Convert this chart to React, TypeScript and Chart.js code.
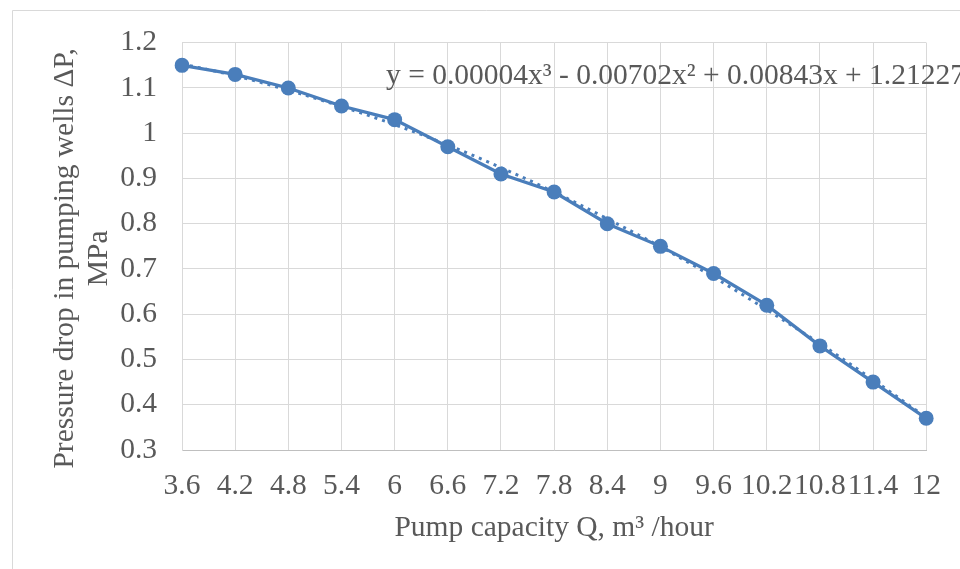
import React, { useEffect, useRef } from "react";
import { Chart, registerables } from "chart.js";

Chart.register(...registerables);

const categories = ["3.6", "4.2", "4.8", "5.4", "6", "6.6", "7.2", "7.8", "8.4", "9", "9.6", "10.2", "10.8", "11.4", "12"];
const pressureDrop = [1.15, 1.13, 1.1, 1.06, 1.03, 0.97, 0.91, 0.87, 0.8, 0.75, 0.69, 0.62, 0.53, 0.45, 0.37];
const trendValues = [1.153, 1.127, 1.095, 1.059, 1.019, 0.974, 0.924, 0.87, 0.811, 0.749, 0.682, 0.61, 0.535, 0.455, 0.372];
const yTicks = { min: 0.3, max: 1.2, step: 0.1 };
const equationText = "y = 0.00004x³ - 0.00702x² + 0.00843x + 1.21227";
const yTitle = ["Pressure drop in pumping wells ΔP,", "MPa"];
const xTitle = "Pump capacity Q, m³ /hour";

const BLUE = "#4a7ebb";
const TEXT = "#595959";
const GRID = "#d9d9d9";
const AXIS = "#bfbfbf";
const FONT = "'Liberation Serif', 'Times New Roman', serif";
const FS = 29.5;

export default function App() {
  const ref = useRef<HTMLCanvasElement | null>(null);

  useEffect(() => {
    const canvas = ref.current;
    if (!canvas) return;

    const framePlugin = {
      id: "frame",
      beforeDraw(chart: any) {
        const ctx = chart.ctx;
        ctx.save();
        ctx.fillStyle = "#ffffff";
        ctx.fillRect(0, 0, chart.width, chart.height);
        ctx.strokeStyle = GRID;
        ctx.lineWidth = 1;
        ctx.beginPath();
        ctx.moveTo(12.5, chart.height);
        ctx.lineTo(12.5, 10.5);
        ctx.lineTo(chart.width, 10.5);
        ctx.stroke();
        ctx.restore();
      },
      afterDraw(chart: any) {
        const ctx = chart.ctx;
        const a = chart.chartArea;
        ctx.save();
        ctx.fillStyle = TEXT;
        ctx.font = `${FS}px ${FONT}`;
        ctx.textAlign = "left";
        ctx.textBaseline = "alphabetic";
        ctx.fillText(equationText, a.left + 204, a.top + 41);
        // y-axis title, two rotated lines
        const cy = (a.top + a.bottom) / 2 + 12;
        const baselines = [73, 107];
        yTitle.forEach((line, i) => {
          ctx.save();
          ctx.translate(baselines[i], cy);
          ctx.rotate(-Math.PI / 2);
          ctx.textAlign = "center";
          ctx.textBaseline = "alphabetic";
          ctx.fillText(line, 0, 0);
          ctx.restore();
        });
        ctx.restore();
      },
    };

    const chart = new Chart(canvas, {
      type: "line",
      data: {
        labels: categories,
        datasets: [
          {
            label: "ΔP",
            data: pressureDrop,
            borderColor: BLUE,
            backgroundColor: BLUE,
            borderWidth: 3.25,
            pointRadius: 7.5,
            pointBorderWidth: 0,
            pointBackgroundColor: BLUE,
            tension: 0,
          },
          {
            label: "Trend",
            data: trendValues,
            borderColor: BLUE,
            borderWidth: 3,
            borderDash: [3, 5],
            pointRadius: 0,
            cubicInterpolationMode: "monotone",
            fill: false,
          },
        ],
      },
      options: {
        responsive: false,
        animation: false,
        layout: { padding: { left: 0, top: 41, right: 32, bottom: 0 } },
        plugins: {
          legend: { display: false },
          tooltip: { enabled: false },
        },
        scales: {
          x: {
            type: "category",
            offset: false,
            grid: { color: GRID, lineWidth: 1, drawTicks: false },
            border: { color: AXIS, width: 1 },
            ticks: {
              color: TEXT,
              font: { family: FONT, size: FS },
              padding: 19,
              autoSkip: false,
              maxRotation: 0,
              minRotation: 0,
            },
            title: {
              display: true,
              text: xTitle,
              color: TEXT,
              font: { family: FONT, size: FS },
              padding: { top: 0, bottom: 23 },
            },
            afterFit(scale: any) {
              scale.height = 119;
            },
          },
          y: {
            min: yTicks.min,
            max: yTicks.max,
            grid: { color: GRID, lineWidth: 1, drawTicks: false },
            border: { color: GRID, width: 1 },
            ticks: {
              stepSize: yTicks.step,
              color: TEXT,
              font: { family: FONT, size: FS },
              padding: 25,
              callback: (v: any) => String(Math.round(Number(v) * 10) / 10),
            },
            title: { display: false },
            afterFit(scale: any) {
              scale.width = 182;
            },
          },
        },
      },
      plugins: [framePlugin],
    } as any);

    return () => chart.destroy();
  }, []);

  return (
    <div style={{ position: "fixed", left: 0, top: 0, width: 960, height: 569, background: "#fff" }}>
      <canvas ref={ref} width={960} height={569} style={{ display: "block", width: 960, height: 569 }} />
    </div>
  );
}
